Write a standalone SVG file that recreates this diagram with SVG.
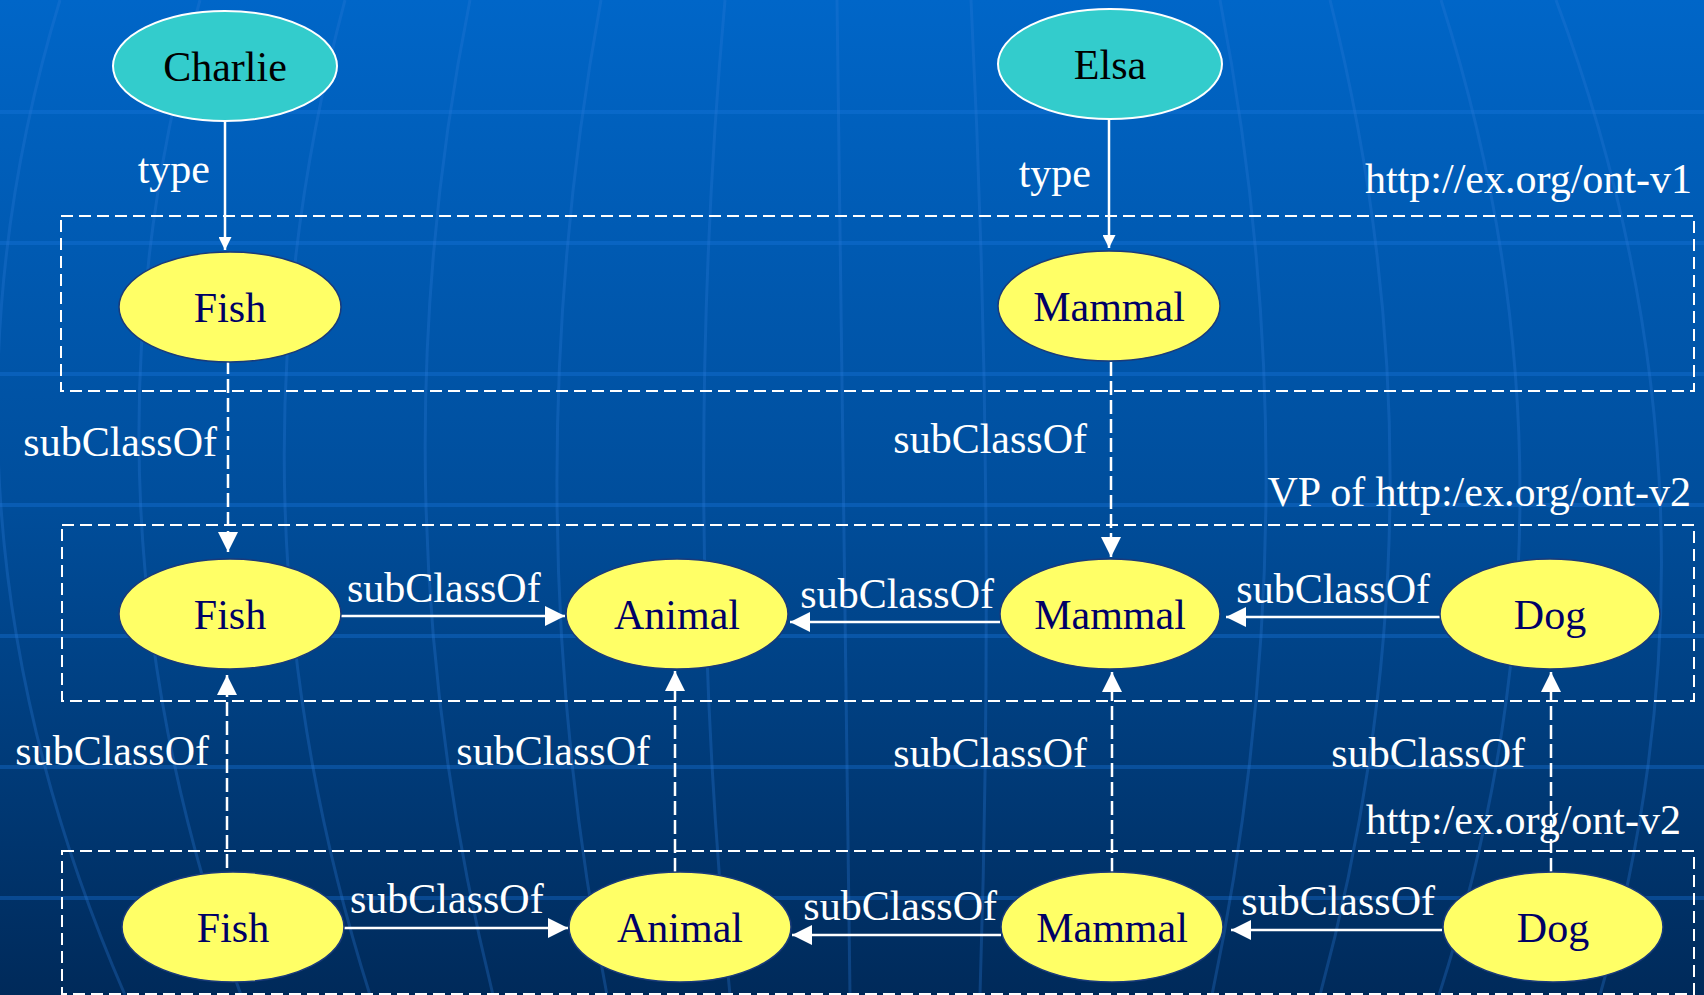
<svg xmlns="http://www.w3.org/2000/svg" width="1704" height="995" viewBox="0 0 1704 995">
<defs>
<linearGradient id="bg" x1="0" y1="0" x2="0" y2="1">
<stop offset="0" stop-color="#0066C8"/>
<stop offset="0.5" stop-color="#004E9C"/>
<stop offset="1" stop-color="#002A5A"/>
</linearGradient>
<marker id="ah" markerUnits="userSpaceOnUse" markerWidth="20" markerHeight="20" refX="20" refY="10" orient="auto" viewBox="0 0 20 20">
<path d="M0,0 L20,10 L0,20 z" fill="#FFFFFF"/>
</marker>
<marker id="ahs" markerUnits="userSpaceOnUse" markerWidth="13" markerHeight="13" refX="13" refY="6.5" orient="auto" viewBox="0 0 13 13">
<path d="M0,0 L13,6.5 L0,13 z" fill="#FFFFFF"/>
</marker>
</defs>
<style>
.hl{stroke:#1a78e0;stroke-opacity:0.35;stroke-width:4;fill:none}
.mer{stroke:#2a7ad8;stroke-opacity:0.3;stroke-width:3;fill:none}
.zone{fill:none;stroke:#FFFFFF;stroke-width:2;stroke-dasharray:12 6}
.ind{fill:#33CCCC;stroke:#FFFFFF;stroke-width:2}
.cls{fill:#FFFF66;stroke:#1a3a7a;stroke-width:1.5}
.t{font-family:"Liberation Serif","Times New Roman",serif;font-size:42px}
.nt{fill:#000066;text-anchor:middle}
.it{fill:#000000;text-anchor:middle}
.lbl{fill:#FFFFFF}
.e{stroke:#FFFFFF;stroke-width:2.5;fill:none}
.d{stroke-dasharray:14 5}
</style>
<rect x="0" y="0" width="1704" height="995" fill="url(#bg)"/>
<g id="background">
<line class="hl" x1="0" y1="112" x2="1704" y2="112"/>
<line class="hl" x1="0" y1="243" x2="1704" y2="243"/>
<line class="hl" x1="0" y1="374" x2="1704" y2="374"/>
<line class="hl" x1="0" y1="505" x2="1704" y2="505"/>
<line class="hl" x1="0" y1="636" x2="1704" y2="636"/>
<line class="hl" x1="0" y1="767" x2="1704" y2="767"/>
<line class="hl" x1="0" y1="898" x2="1704" y2="898"/>
<path class="mer" d="M60,0 Q-92,497 125,995"/>
<path class="mer" d="M200,0 Q60,497 241,995"/>
<path class="mer" d="M345,0 Q212,497 370,995"/>
<path class="mer" d="M470,0 Q370,497 493,995"/>
<path class="mer" d="M601,0 Q510,497 607,995"/>
<path class="mer" d="M725,0 Q680,497 730,995"/>
<path class="mer" d="M837,0 Q843,497 850,995"/>
<path class="mer" d="M971,0 Q996,497 980,995"/>
<path class="mer" d="M1220,0 Q1316,497 1212,995"/>
<path class="mer" d="M1330,0 Q1455,497 1320,995"/>
<path class="mer" d="M1441,0 Q1600,497 1439,995"/>
<path class="mer" d="M1556,0 Q1742,497 1600,995"/>
</g>
<g id="zones">
<rect class="zone" x="61" y="216" width="1633" height="175"/>
<text class="t lbl" x="1692" y="193" text-anchor="end">http://ex.org/ont-v1</text>
<rect class="zone" x="62" y="525" width="1632" height="176"/>
<text class="t lbl" x="1691" y="506" text-anchor="end">VP of http:/ex.org/ont-v2</text>
<rect class="zone" x="62" y="851" width="1632" height="143"/>
<text class="t lbl" x="1681" y="834" text-anchor="end">http:/ex.org/ont-v2</text>
</g>
<g id="connectors">
<line class="e" x1="225" y1="122" x2="225" y2="250" marker-end="url(#ahs)"/>
<text class="t lbl" x="210" y="183" text-anchor="end">type</text>
<line class="e" x1="1109" y1="119" x2="1109" y2="248" marker-end="url(#ahs)"/>
<text class="t lbl" x="1091" y="187" text-anchor="end">type</text>
<line class="e d" x1="228" y1="360" x2="228" y2="552" marker-end="url(#ah)"/>
<text class="t lbl" x="217" y="456" text-anchor="end">subClassOf</text>
<line class="e d" x1="1111" y1="362" x2="1111" y2="557" marker-end="url(#ah)"/>
<text class="t lbl" x="1087" y="453" text-anchor="end">subClassOf</text>
<line class="e" x1="341" y1="616" x2="565" y2="616" marker-end="url(#ah)"/>
<text class="t lbl" x="347" y="602">subClassOf</text>
<line class="e" x1="1000" y1="622" x2="790" y2="622" marker-end="url(#ah)"/>
<text class="t lbl" x="994" y="608" text-anchor="end">subClassOf</text>
<line class="e" x1="1440" y1="617" x2="1226" y2="617" marker-end="url(#ah)"/>
<text class="t lbl" x="1430" y="603" text-anchor="end">subClassOf</text>
<line class="e d" x1="227" y1="868" x2="227" y2="675" marker-end="url(#ah)"/>
<text class="t lbl" x="209" y="765" text-anchor="end">subClassOf</text>
<line class="e d" x1="675" y1="872" x2="675" y2="671" marker-end="url(#ah)"/>
<text class="t lbl" x="650" y="765" text-anchor="end">subClassOf</text>
<line class="e d" x1="1112" y1="872" x2="1112" y2="672" marker-end="url(#ah)"/>
<text class="t lbl" x="1087" y="767" text-anchor="end">subClassOf</text>
<line class="e d" x1="1551" y1="872" x2="1551" y2="672" marker-end="url(#ah)"/>
<text class="t lbl" x="1525" y="767" text-anchor="end">subClassOf</text>
<line class="e" x1="344" y1="928" x2="568" y2="928" marker-end="url(#ah)"/>
<text class="t lbl" x="350" y="913">subClassOf</text>
<line class="e" x1="1001" y1="935" x2="792" y2="935" marker-end="url(#ah)"/>
<text class="t lbl" x="997" y="920" text-anchor="end">subClassOf</text>
<line class="e" x1="1442" y1="930" x2="1231" y2="930" marker-end="url(#ah)"/>
<text class="t lbl" x="1435" y="915" text-anchor="end">subClassOf</text>
</g>
<g id="charlie"><ellipse class="ind" cx="225" cy="66" rx="112" ry="55"/><text class="t it" x="225" y="81">Charlie</text></g>
<g id="elsa"><ellipse class="ind" cx="1110" cy="64" rx="112" ry="55"/><text class="t it" x="1110" y="79">Elsa</text></g>
<g id="fish-v1"><ellipse class="cls" cx="230" cy="307" rx="111" ry="55"/><text class="t nt" x="230" y="322">Fish</text></g>
<g id="mammal-v1"><ellipse class="cls" cx="1109" cy="306" rx="111" ry="55"/><text class="t nt" x="1109" y="321">Mammal</text></g>
<g id="fish-vp"><ellipse class="cls" cx="230" cy="614" rx="111" ry="55"/><text class="t nt" x="230" y="629">Fish</text></g>
<g id="animal-vp"><ellipse class="cls" cx="677" cy="614" rx="111" ry="55"/><text class="t nt" x="677" y="629">Animal</text></g>
<g id="mammal-vp"><ellipse class="cls" cx="1110" cy="614" rx="110" ry="55"/><text class="t nt" x="1110" y="629">Mammal</text></g>
<g id="dog-vp"><ellipse class="cls" cx="1550" cy="614" rx="110" ry="55"/><text class="t nt" x="1550" y="629">Dog</text></g>
<g id="fish-v2"><ellipse class="cls" cx="233" cy="927" rx="111" ry="55"/><text class="t nt" x="233" y="942">Fish</text></g>
<g id="animal-v2"><ellipse class="cls" cx="680" cy="927" rx="111" ry="55"/><text class="t nt" x="680" y="942">Animal</text></g>
<g id="mammal-v2"><ellipse class="cls" cx="1112" cy="927" rx="111" ry="55"/><text class="t nt" x="1112" y="942">Mammal</text></g>
<g id="dog-v2"><ellipse class="cls" cx="1553" cy="927" rx="110" ry="55"/><text class="t nt" x="1553" y="942">Dog</text></g>
</svg>
